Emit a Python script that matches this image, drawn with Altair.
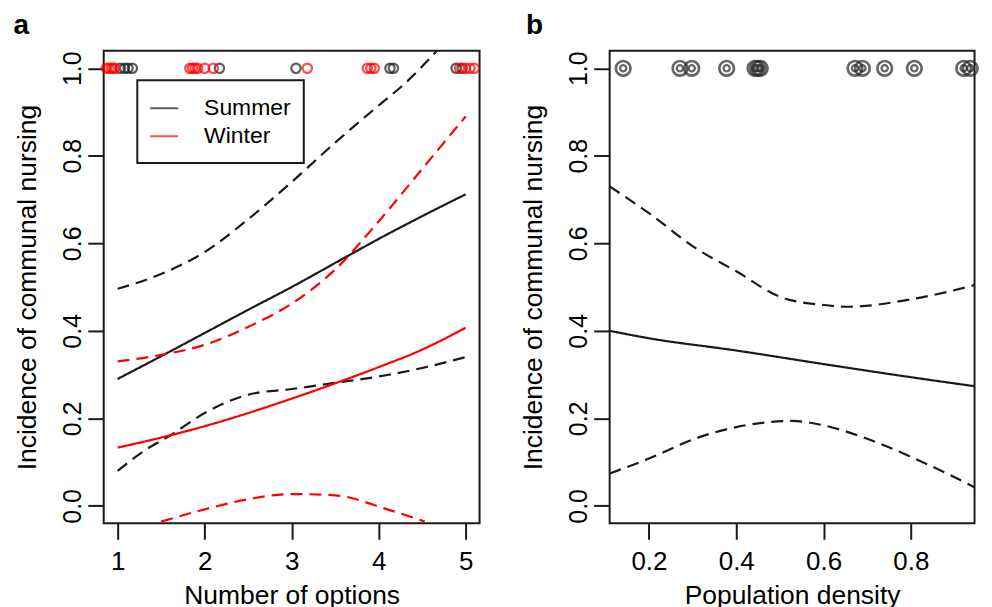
import altair as alt
import pandas as pd

FONT = "Liberation Sans"
BLACK = "#1a1a1a"
RED = "#ff0000"

# ---------------- Panel a: number of options ----------------
summer_pts_x = [1.03, 1.08, 1.12, 1.17, 2.17, 3.05, 4.13, 4.17, 4.89, 4.96]
winter_pts_x = [0.87, 0.90, 0.93, 0.95, 0.97, 1.83, 1.86, 1.89, 1.92, 2.00, 2.10,
                3.18, 3.87, 3.91, 3.95, 4.93, 5.00, 5.05, 5.10]

summer_fit_x = [1, 1.5, 2, 2.5, 3, 3.5, 4, 4.5, 5]
summer_fit_y = [0.290, 0.342, 0.395, 0.448, 0.500, 0.555, 0.610, 0.662, 0.712]
summer_up_x = [1, 1.5, 2, 2.5, 3, 3.5, 4, 4.3, 4.67]
summer_up_y = [0.496, 0.530, 0.580, 0.655, 0.740, 0.830, 0.915, 0.965, 1.04]
summer_lo_x = [1, 1.3, 1.62, 2, 2.5, 3, 3.5, 4.1, 4.5, 5]
summer_lo_y = [0.080, 0.125, 0.163, 0.212, 0.254, 0.267, 0.281, 0.299, 0.315, 0.340]

winter_fit_x = [1, 1.5, 2, 2.5, 3, 3.5, 4, 4.5, 5]
winter_fit_y = [0.133, 0.156, 0.182, 0.212, 0.245, 0.280, 0.317, 0.357, 0.407]
winter_up_x = [1, 1.5, 2, 2.5, 3, 3.5, 4, 4.5, 5]
winter_up_y = [0.330, 0.345, 0.368, 0.409, 0.462, 0.540, 0.650, 0.770, 0.890]
winter_lo_x = [1.5, 2, 2.5, 3, 3.5, 4.1, 4.53]
winter_lo_y = [-0.036, -0.008, 0.015, 0.027, 0.024, -0.008, -0.036]

# ---------------- Panel b: population density ----------------
density_pts_x = [0.141, 0.271, 0.298, 0.378, 0.443, 0.449, 0.455, 0.672, 0.689,
                 0.740, 0.808, 0.921, 0.936]
dens_fit_x = [0.110, 0.2, 0.4, 0.6, 0.8, 0.971]
dens_fit_y = [0.400, 0.383, 0.355, 0.324, 0.294, 0.270]
dens_up_x = [0.110, 0.2, 0.307, 0.4, 0.505, 0.6, 0.657, 0.8, 0.971]
dens_up_y = [0.730, 0.669, 0.589, 0.536, 0.476, 0.459, 0.455, 0.472, 0.511]
dens_lo_x = [0.110, 0.2, 0.307, 0.4, 0.527, 0.6, 0.687, 0.8, 0.971]
dens_lo_y = [0.074, 0.108, 0.154, 0.180, 0.194, 0.184, 0.158, 0.112, 0.030]

y_ticks = [0.0, 0.2, 0.4, 0.6, 0.8, 1.0]
xa_ticks = [1, 2, 3, 4, 5]
xb_ticks = [0.2, 0.4, 0.6, 0.8]


def rows(xs, ys, season, line):
    return [{"x": a, "y": b, "season": season, "line": line} for a, b in zip(xs, ys)]


lines_a = pd.DataFrame(
    rows(summer_fit_x, summer_fit_y, "Summer", "fit")
    + rows(summer_up_x, summer_up_y, "Summer", "upper")
    + rows(summer_lo_x, summer_lo_y, "Summer", "lower")
    + rows(winter_fit_x, winter_fit_y, "Winter", "fit")
    + rows(winter_up_x, winter_up_y, "Winter", "upper")
    + rows(winter_lo_x, winter_lo_y, "Winter", "lower")
)
pts_a = pd.DataFrame(
    [{"x": v, "y": 1.0, "season": "Summer"} for v in summer_pts_x]
    + [{"x": v, "y": 1.0, "season": "Winter"} for v in winter_pts_x]
)
lines_b = pd.DataFrame(
    rows(dens_fit_x, dens_fit_y, "All", "fit")
    + rows(dens_up_x, dens_up_y, "All", "upper")
    + rows(dens_lo_x, dens_lo_y, "All", "lower")
)
pts_b = pd.DataFrame([{"x": v, "y": 1.0} for v in density_pts_x])

WA, WB, H = 377, 366, 474
Y_DOMAIN = [-0.04, 1.04]
XB_MAX = 0.110 + WB / 437.9

y_axis = alt.Axis(
    values=y_ticks, format=".1f", labelAngle=270, labelAlign="center",
    labelBaseline="alphabetic", labelPadding=7, labelFontSize=25,
    labelFlush=False, labelOverlap=False,
    title="Incidence of communal nursing", titleFontSize=26.5,
    titlePadding=28, minExtent=40, maxExtent=40, titleBaseline="alphabetic",
)
y_enc = alt.Y("y:Q", scale=alt.Scale(domain=Y_DOMAIN, nice=False, zero=False), axis=y_axis)

xa_enc = alt.X(
    "x:Q", scale=alt.Scale(domain=[0.84, 5.16], nice=False, zero=False),
    axis=alt.Axis(values=xa_ticks, format="d", labelFontSize=26, labelPadding=9,
                  labelFlush=False, labelOverlap=False,
                  title="Number of options", titleFontSize=26.5, titlePadding=8),
)
xb_enc = alt.X(
    "x:Q", scale=alt.Scale(domain=[0.110, XB_MAX], nice=False, zero=False),
    axis=alt.Axis(values=xb_ticks, format=".1f", labelFontSize=26, labelPadding=9,
                  labelFlush=False, labelOverlap=False,
                  title="Population density", titleFontSize=26.5, titlePadding=8),
)

season_scale = alt.Scale(domain=["Summer", "Winter"], range=[BLACK, RED])
dash_scale = alt.Scale(domain=["fit", "upper", "lower"], range=[[1, 0], [12, 7], [12, 7]])
legend = alt.Legend(
    title=" ", titleFontSize=1, titlePadding=0,
    orient="none", legendX=33.7, legendY=29.6, direction="vertical",
    symbolType="stroke", symbolSize=1764, symbolStrokeWidth=2, symbolOffset=-15,
    labelFontSize=23, labelFont=FONT, labelColor="black", labelOffset=25,
    padding=13, clipHeight=28, rowPadding=0,
    strokeColor=BLACK, fillColor="white",
)

line_layer_a = alt.Chart(lines_a).mark_line(
    clip=True, strokeWidth=2.2, interpolate="monotone"
).encode(
    x=xa_enc, y=y_enc,
    color=alt.Color("season:N", scale=season_scale, legend=legend),
    strokeDash=alt.StrokeDash("line:N", scale=dash_scale, legend=None),
)
pt_layer_a = alt.Chart(pts_a).mark_point(
    shape="circle", filled=False, size=88, strokeWidth=2.2
).encode(
    x=xa_enc, y=y_enc,
    color=alt.Color("season:N", scale=season_scale, legend=legend),
)

panel_a = alt.layer(line_layer_a, pt_layer_a).properties(
    width=WA, height=H,
    title=alt.TitleParams("a", anchor="start", fontSize=28, fontWeight="bold",
                          font=FONT, color="black", offset=-11,
                          baseline="alphabetic", dx=-1.5),
)

line_layer_b = alt.Chart(lines_b).mark_line(
    clip=True, strokeWidth=2.2, interpolate="monotone", color=BLACK
).encode(
    x=xb_enc, y=y_enc,
    strokeDash=alt.StrokeDash("line:N", scale=dash_scale, legend=None),
)
outer_b = alt.Chart(pts_b).mark_point(
    shape="circle", filled=False, size=215, strokeWidth=2.7, color="#262626"
).encode(x=xb_enc, y=y_enc)
inner_b = alt.Chart(pts_b).mark_point(
    shape="circle", filled=False, size=40, strokeWidth=2.3, color="#262626"
).encode(x=xb_enc, y=y_enc)

panel_b = alt.layer(line_layer_b, outer_b, inner_b).properties(
    width=WB, height=H,
    title=alt.TitleParams("b", anchor="start", fontSize=28, fontWeight="bold",
                          font=FONT, color="black", offset=-11,
                          baseline="alphabetic", dx=5.2),
)

chart = alt.hconcat(panel_a, panel_b, spacing=35.5).properties(
    padding={"left": 4, "top": 2, "right": 0, "bottom": 0}
).configure(
    font=FONT
).configure_view(
    stroke=BLACK, strokeWidth=2
).configure_axis(
    domain=False, grid=False, tickColor=BLACK, tickWidth=2, tickSize=16,
    labelFont=FONT, titleFont=FONT, labelColor="black", titleColor="black",
    titleFontWeight="normal",
).configure_legend(
    strokeWidth=2
)

chart.save("out.html", embed_options={"renderer": "svg", "actions": False})
